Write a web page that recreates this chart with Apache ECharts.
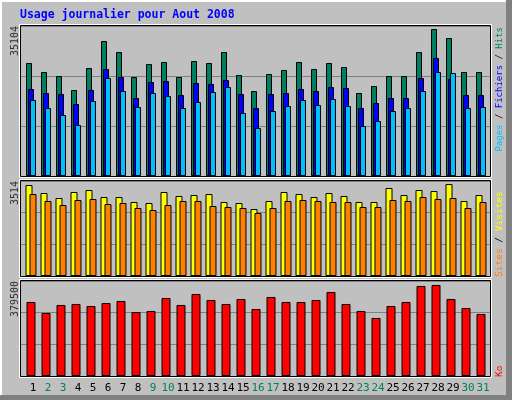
<!DOCTYPE html>
<html>
<head>
<meta charset="utf-8">
<script src="https://cdn.jsdelivr.net/npm/echarts@6/dist/echarts.min.js"></script>
<style>
html,body{margin:0;padding:0;background:#c0c0c0;}
#main{width:512px;height:400px;}
</style>
</head>
<body>
<div id="main"></div>
<script>
// jours du mois
var jours = ['1','2','3','4','5','6','7','8','9','10','11','12','13','14','15','16',
             '17','18','19','20','21','22','23','24','25','26','27','28','29','30','31'];
var weekend = ['2','3','9','10','16','17','23','24','30','31'];

// panneau 1 : hits / fichiers / pages
var hits = [26984,24835,23880,20537,25790,32238,29611,23641,26746,27223,23641,27462,26984,29611,24119,20298,
            24358,25313,27223,25552,26984,26029,19820,21492,23880,23880,29611,35104,32954,24835,24835];
var fichiers = [20776,19820,19582,17194,20537,25552,23641,18626,22447,22686,19343,22208,21970,22925,19582,16238,
                19582,19820,20776,20298,21253,21014,16238,17432,18626,18626,23402,28178,23164,19343,19343];
var pages = [18149,16238,14567,12179,17910,23402,20298,16477,19820,19104,16238,17671,20059,21253,15044,11462,
             15522,16716,18149,16955,18388,16716,11940,13134,15522,16238,20298,24835,24596,16238,16477];

// panneau 2 : visites / sites
var visites = [3476,3171,2980,3209,3285,3018,3018,2827,2789,3209,3056,3094,3132,2827,2789,2559,
               2865,3209,3132,3018,3171,3056,2827,2827,3362,3094,3285,3247,3514,2865,3094];
var sites = [3132,2865,2712,2903,2941,2750,2789,2598,2521,2712,2865,2865,2674,2636,2598,2407,
             2598,2865,2903,2865,2827,2827,2636,2636,2903,2865,3018,2941,2980,2598,2827];

// panneau 3 : Ko
var ko = [308580,262710,296070,300240,291900,304410,312750,266880,271050,325260,296070,341940,316920,300240,321090,279390,
          329430,308580,308580,316920,350280,300240,271050,241860,291900,308580,375300,379500,321090,283560,258540];

var maxLabels = ['35104','3514','379500'];

var mono = "'DejaVu Sans Mono', 'Liberation Mono', monospace";

// panneaux : top, height, max axe
var panels = [
    {top:26, height:150, max:35820},
    {top:181, height:95, max:3630},
    {top:281, height:95, max:396000}
];

var grids = [], xAxes = [], yAxes = [];
for (var i = 0; i < panels.length; i++) {
    // grille pleine largeur pour les lignes de repere
    grids.push({left:21, width:469, top:panels[i].top, height:panels[i].height});
    xAxes.push({gridIndex:i, type:'value', show:false, min:0, max:1});
    yAxes.push({
        gridIndex:i, type:'value', min:0, max:panels[i].max, interval:panels[i].max/3,
        axisLabel:{show:false}, axisLine:{show:false}, axisTick:{show:false},
        splitLine:{show:true, lineStyle:{color:'#808080', width:1}}
    });
}
for (var j = 0; j < panels.length; j++) {
    // grille des barres (15px par jour)
    grids.push({left:23.5, width:465, top:panels[j].top, height:panels[j].height});
    xAxes.push({
        gridIndex:3+j, type:'category', data:jours,
        axisLine:{show:false}, axisTick:{show:false},
        axisLabel:{
            show: j == 2,
            margin:7,
            fontFamily:mono,
            fontSize:11,
            padding:[0,0,0,4],
            interval:0,
            color:function(v){ return weekend.indexOf(v) >= 0 ? '#008060' : '#000000'; }
        }
    });
    yAxes.push({gridIndex:3+j, type:'value', min:0, max:panels[j].max, show:false, splitLine:{show:false}});
}

function barSerie(name, data, color, idx, width, gap) {
    var s = {
        name:name, type:'bar', xAxisIndex:idx, yAxisIndex:idx, data:data,
        barWidth:width,
        itemStyle:{color:color, borderColor:'#000000', borderWidth:1},
        animation:false
    };
    if (gap) s.barGap = gap;
    return s;
}

// cadres des panneaux
function cadre(y1, y2) {
    return [
        {type:'rect', shape:{x:19.5, y:y1-1, width:472, height:y2-y1+2}, style:{fill:null, stroke:'#ffffff', lineWidth:1}, z:1},
        {type:'rect', shape:{x:20.5, y:y1, width:470, height:y2-y1}, style:{fill:null, stroke:'#000000', lineWidth:1}, z:1}
    ];
}

var graphics = [
    {type:'rect', shape:{x:0, y:0, width:512, height:2}, style:{fill:'#ffffff'}},
    {type:'rect', shape:{x:0, y:0, width:2, height:400}, style:{fill:'#ffffff'}},
    {type:'rect', shape:{x:506, y:0, width:6, height:400}, style:{fill:'#808080'}},
    {type:'rect', shape:{x:0, y:395, width:512, height:5}, style:{fill:'#808080'}},
    {type:'text', x:20, y:15, style:{text:'Usage journalier pour Aout 2008', font:'bold 11.5px ' + mono,
        fill:'#0000ff', align:'left', verticalAlign:'middle'}},
    {type:'text', x:15, y:26, rotation:Math.PI/2, style:{text:maxLabels[0], font:'10px ' + mono,
        fill:'#303030', align:'right', verticalAlign:'middle'}},
    {type:'text', x:15, y:181, rotation:Math.PI/2, style:{text:maxLabels[1], font:'10px ' + mono,
        fill:'#303030', align:'right', verticalAlign:'middle'}},
    {type:'text', x:15, y:281, rotation:Math.PI/2, style:{text:maxLabels[2], font:'10px ' + mono,
        fill:'#303030', align:'right', verticalAlign:'middle'}},
    {type:'text', x:500, y:27, rotation:Math.PI/2, style:{
        text:'{p|Pages} / {f|Fichiers} / {h|Hits}', font:'9px ' + mono, fill:'#000000',
        align:'right', verticalAlign:'middle',
        rich:{p:{fill:'#00c0ff', font:'9px ' + mono}, f:{fill:'#0000ff', font:'9px ' + mono}, h:{fill:'#008060', font:'9px ' + mono}}
    }},
    {type:'text', x:500, y:277, rotation:Math.PI/2, style:{
        text:'{s|Sites} / {v|Visites}', font:'9.5px ' + mono, fill:'#000000',
        align:'left', verticalAlign:'middle',
        rich:{s:{fill:'#ff8000', font:'9.5px ' + mono}, v:{fill:'#ffff00', font:'9.5px ' + mono}}
    }},
    {type:'text', x:500, y:377, rotation:Math.PI/2, style:{text:'Ko', font:'9.5px ' + mono,
        fill:'#ff0000', align:'left', verticalAlign:'middle'}}
];
graphics = graphics.concat(cadre(25.5, 176.5), cadre(180.5, 276.5), cadre(280.5, 376.5));

var option = {
    animation:false,
    backgroundColor:'#c0c0c0',
    grid:grids,
    xAxis:xAxes,
    yAxis:yAxes,
    graphic:graphics,
    series:[
        barSerie('Hits', hits, '#008060', 3, 6),
        barSerie('Fichiers', fichiers, '#0000ff', 3, 6),
        barSerie('Pages', pages, '#00c0ff', 3, 6, '-66.7%'),
        barSerie('Visites', visites, '#ffff00', 4, 7),
        barSerie('Sites', sites, '#ff8000', 4, 7, '-43%'),
        barSerie('Ko', ko, '#ff0000', 5, 9)
    ]
};

var domMain = document.getElementById('main');
var chart = echarts.init(domMain);
chart.setOption(option, false);
</script>
</body>
</html>
